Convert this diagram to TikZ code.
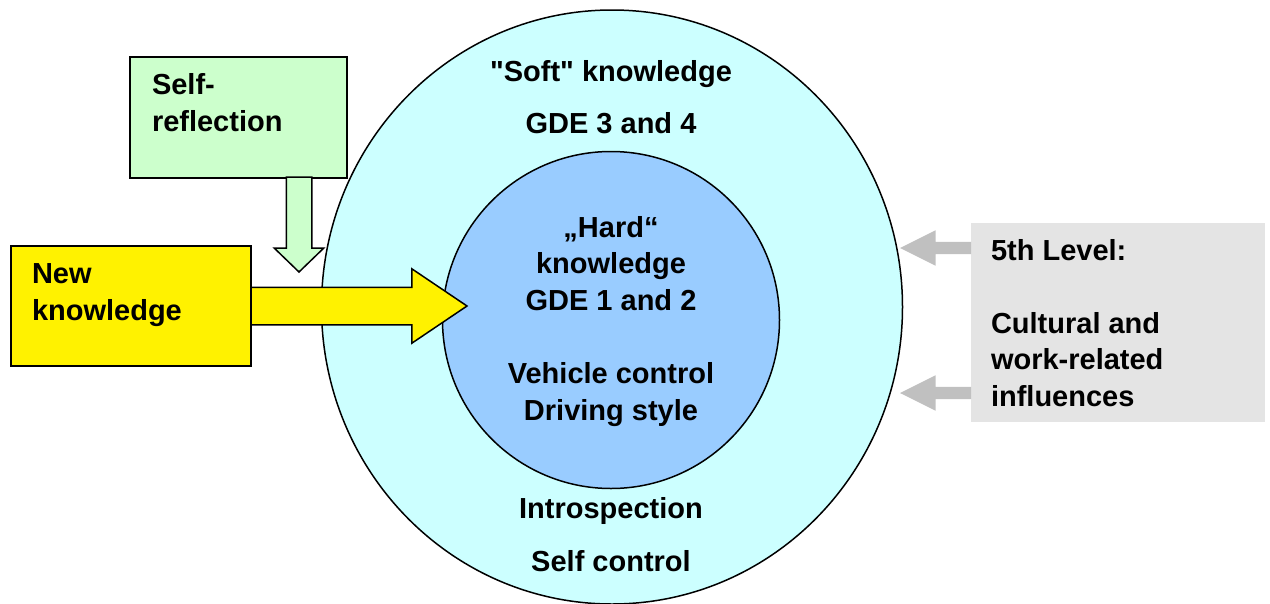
\documentclass[tikz,border=0pt]{standalone}
\usepackage{fontspec}
\setmainfont{Liberation Sans}
\usetikzlibrary{calc,positioning,shapes.geometric,shapes.arrows}
\definecolor{softcyan}{RGB}{204,255,255}
\definecolor{hardblue}{RGB}{153,204,255}
\definecolor{reflgreen}{RGB}{204,255,204}
\definecolor{levelgray}{RGB}{228,228,228}
\definecolor{pushgray}{RGB}{192,192,192}
\begin{document}
\begin{tikzpicture}[
x=1pt, y=-1pt,
font=\fontsize{29}{36.5}\selectfont\bfseries,
ring/.style={draw, line width=1.5pt, inner sep=0pt, outer sep=0pt},
box/.style={draw, line width=1.5pt, rectangle, inner sep=0pt, outer sep=0pt},
txt/.style={inner sep=0pt, outer sep=0pt, align=left, font=\fontsize{29}{37}\selectfont\bfseries},
ctxt/.style={inner sep=0pt, outer sep=0pt, align=center, anchor=base},
blockarrow/.style={single arrow, draw, line width=1.5pt, inner sep=0pt, outer sep=0pt,
	single arrow head indent=0pt, anchor=tail},
greyarrow/.style={single arrow, fill=pushgray, inner sep=0pt, outer sep=0pt,
	inner ysep=6pt, minimum height=71pt, single arrow head extend=11.5pt,
	single arrow tip angle=53, rotate=180, anchor=tail}
]
\useasboundingbox (0,0) rectangle (1270,603);
% knowledge rings
\node[ring, ellipse, fill=softcyan, minimum width=581pt, minimum height=594pt] (soft) at (612,307) {};
\node[ring, circle, fill=hardblue, minimum size=337pt] (hard) at (611,320) {};
\node[ctxt] (softt) at (611,81) {\textquotedbl Soft\textquotedbl{} knowledge};
\node[ctxt] (softg) at (611,133) {GDE 3 and 4};
\node[ctxt, anchor=north] (hardt) at (611,216) {„Hard“\\knowledge\\GDE 1 and 2\\[37pt]Vehicle control\\Driving style};
\node[ctxt] (intro) at (611,518) {Introspection};
\node[ctxt] (selfc) at (611,571) {Self control};
% boxes on the left
\node[box, fill=reflgreen, minimum width=217pt, minimum height=121pt] (refl) at (238.5,117.5) {};
\node[txt, below right=16pt and 22pt of refl.north west] (reflt) {Self-\\reflection};
\node[box, fill=yellow, minimum width=240pt, minimum height=120pt] (new) at (131,306) {};
\node[txt, below right=18pt and 21pt of new.north west] (newt) {New\\knowledge};
\node[blockarrow, fill=reflgreen, rotate=-90, minimum height=95pt, inner ysep=12pt,
	single arrow head extend=12pt, single arrow tip angle=92] (drop) at ($(refl.south)+(60.5,-1)$) {};
\node[blockarrow, fill=yellow, minimum height=216pt, inner ysep=18pt,
	single arrow head extend=18.5pt, single arrow tip angle=68] (push) at (new.east) {};
% outside influences
\node[fill=levelgray, minimum width=294pt, minimum height=199pt, inner sep=0pt, outer sep=0pt] (level) at (1118,322.5) {};
\node[txt, below right=16pt and 20pt of level.north west, font=\fontsize{29}{36.5}\selectfont\bfseries] (levelt)
	{5th Level:\\[36.5pt]Cultural and\\work-related\\influences};
\foreach \dy/\nm in {-74.5/inup, 70.5/inlow}
	\node[greyarrow] (\nm) at ($(level.west)+(0,\dy)$) {};
\end{tikzpicture}
\end{document}
